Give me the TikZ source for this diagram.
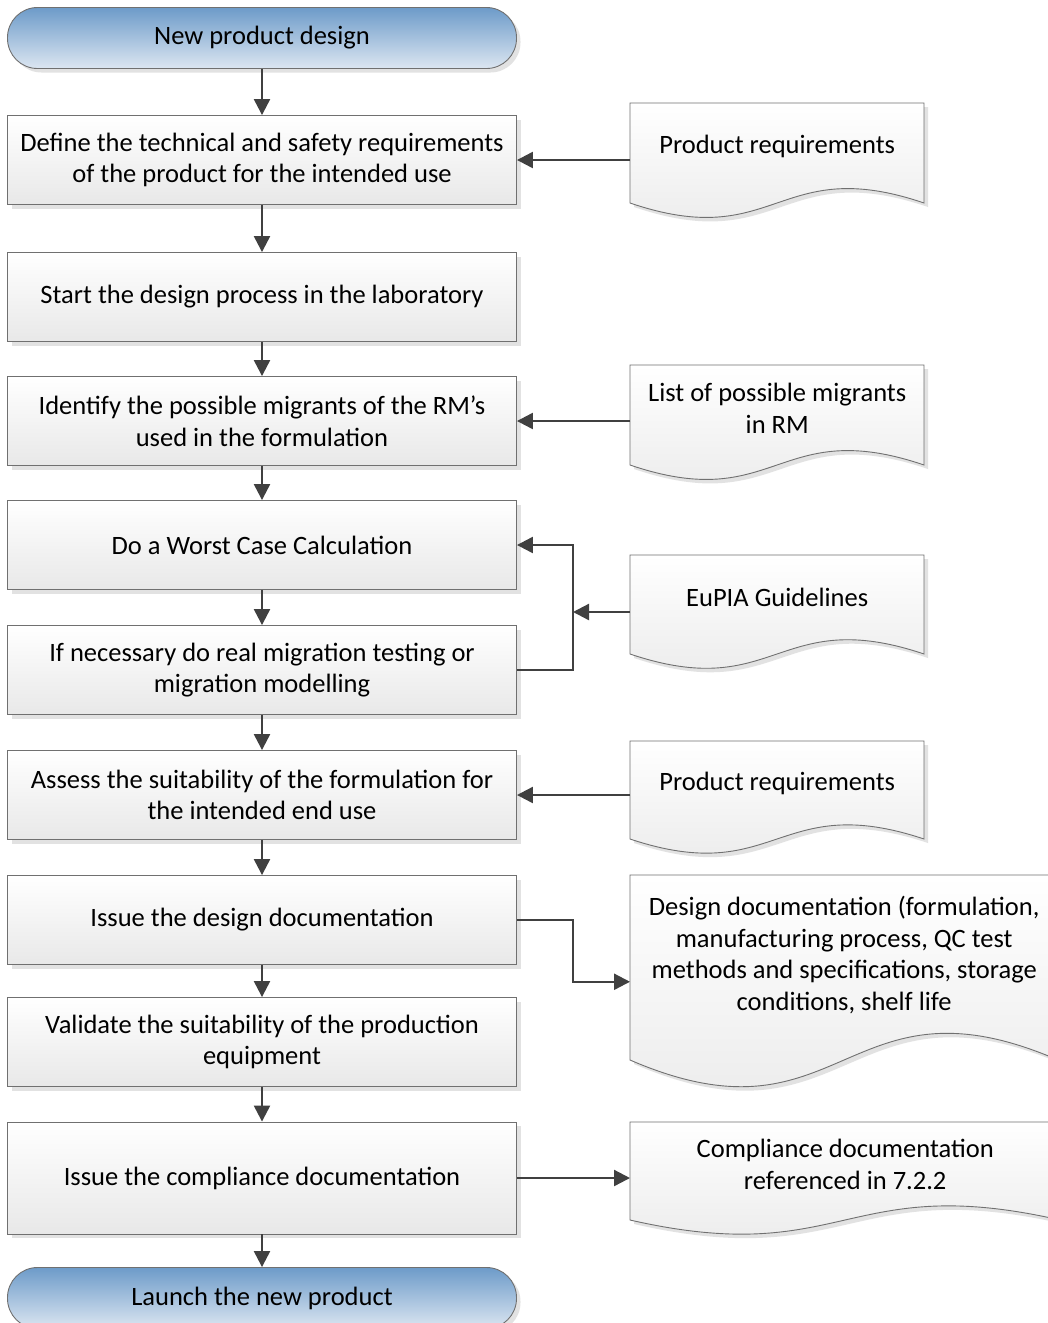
\documentclass[tikz,border=0pt]{standalone}
\usepackage{fontspec}
\setmainfont{Carlito}
\usetikzlibrary{arrows.meta,shadows}
\definecolor{lineclr}{HTML}{404040}
\definecolor{edgeclr}{HTML}{707070}
\definecolor{termtop}{HTML}{6D9BC9}
\definecolor{termbot}{HTML}{DCE6F1}
\newcommand{\docshape}[6]{%
  \path[docfill] (#2+#4,#3) -- (#2,#3) -- (#2,#3+#5)
    .. controls (#2+0.5*#4,#3+1.5*#5) and (#2+0.5*#4,#3+0.5*#5) .. (#2+#4,#3+#5) -- cycle;
  \node[doctext,minimum width=#4pt,minimum height={0.86*#5pt},anchor=north west] (#1) at (#2,#3) {#6};
}

\begin{document}
\begin{tikzpicture}[
  x=1pt,y=-1pt,
  font=\fontsize{26.5}{31.5}\selectfont,
  shdw/.style={drop shadow={shadow xshift=4pt,shadow yshift=-4pt,fill=black!22,opacity=0.5}},
  proc/.style={draw=edgeclr,line width=0.9pt,top color=white,bottom color=black!9,shdw,
    minimum width=509pt,minimum height=89pt,align=center,inner sep=2pt},
  term/.style={draw=edgeclr,line width=0.9pt,top color=termtop,bottom color=termbot,shdw,
    rounded corners=30pt,minimum width=509pt,minimum height=61pt,align=center},
  docfill/.style={draw=edgeclr,line width=0.9pt,top color=white,bottom color=black!9,shdw},
  doctext/.style={align=center,inner sep=2pt},
  arr/.style={-{Triangle[length=16pt,width=16pt]},draw=lineclr,line width=2.3pt},
]
\useasboundingbox (0,0) rectangle (1048,1323);
\clip (0,0) rectangle (1048,1323);
\fill[white] (0,0) rectangle (1048,1323);

\node[term] (start) at (262,38) {New product design};
\node[proc] (b1) at (262,160) {Define the technical and safety requirements\\of the product for the intended use};
\node[proc] (b2) at (262,297) {Start the design process in the laboratory};
\node[proc] (b3) at (262,421) {Identify the possible migrants of the RM’s\\used in the formulation};
\node[proc] (b4) at (262,545) {Do a Worst Case Calculation};
\node[proc] (b5) at (262,670) {If necessary do real migration testing or\\migration modelling};
\node[proc] (b6) at (262,795) {Assess the suitability of the formulation for\\the intended end use};
\node[proc] (b7) at (262,920) {Issue the design documentation};
\node[proc] (b8) at (262,1042) {Validate the suitability of the production\\equipment};
\node[proc,minimum height=112pt] (b9) at (262,1178) {Issue the compliance documentation};
\node[term] (stop) at (262,1298) {Launch the new product};

\docshape{d1}{630}{103}{294}{100}{Product requirements}
\docshape{d2}{630}{365}{294}{100}{List of possible migrants\\in RM}
\docshape{d3}{630}{555}{294}{99}{EuPIA Guidelines}
\docshape{d4}{630}{741}{294}{98}{Product requirements}
\docshape{d5}{630}{875}{428}{185}{Design documentation (formulation,\\manufacturing process, QC test\\methods and specifications, storage\\conditions, shelf life}
\docshape{d6}{630}{1122}{430}{98}{Compliance documentation\\referenced in 7.2.2}

\foreach \a/\b in {start/b1,b1/b2,b2/b3,b3/b4,b4/b5,b5/b6,b6/b7,b7/b8,b8/b9,b9/stop}{
  \draw[arr] (\a) -- (\b);
}
\draw[arr] (d1.west |- b1.east) -- (b1.east);
\draw[arr] (d2.west |- b3.east) -- (b3.east);
\draw[arr] (d4.west |- b6.east) -- (b6.east);
\coordinate (j) at (573,612);
\draw[arr] (d3.west |- j) -- (j);
\draw[arr] (b5.east) -- (b5.east -| j) -- (b4.east -| j) -- (b4.east);
\draw[arr] (b7.east) -- (b7.east -| j) |- ([yshift=-27pt]d5.west);
\draw[arr] (b9.east) -- (d6.west |- b9.east);
\end{tikzpicture}
\end{document}
